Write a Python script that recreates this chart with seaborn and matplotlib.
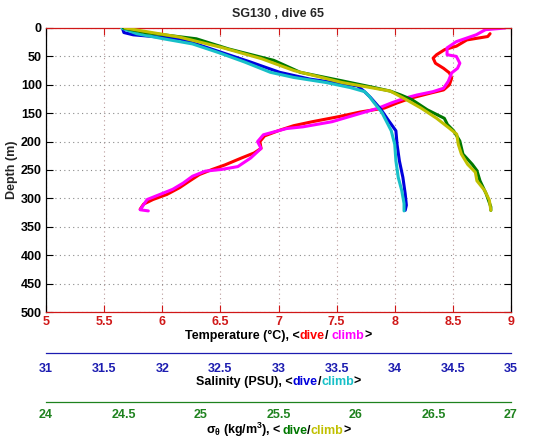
import matplotlib
matplotlib.use("Agg")
import matplotlib.pyplot as plt
import seaborn as sns
import pandas as pd
from matplotlib.ticker import MultipleLocator, FuncFormatter
from matplotlib.offsetbox import TextArea, HPacker, AnnotationBbox

# ---------------- data ----------------
# Temperature, dive (red)
temp_dive_depth = [10, 15, 21, 32, 38, 47, 53, 62, 71, 79, 88, 100, 109, 115, 124, 132, 141, 148,
                   156, 165, 172, 180, 190, 200, 212, 220, 229, 241, 249, 258, 270, 281, 293, 302, 310, 319]
temp_dive = [8.82, 8.80, 8.62, 8.53, 8.43, 8.36, 8.33, 8.35, 8.42, 8.47, 8.49, 8.47, 8.42, 8.30, 8.13,
             8.02, 7.91, 7.70, 7.52, 7.29, 7.13, 7.01, 6.88, 6.84, 6.85, 6.79, 6.68, 6.54, 6.43, 6.32,
             6.23, 6.15, 6.04, 5.92, 5.84, 5.81]
# Temperature, climb (magenta)
temp_climb_depth = [322, 320, 302, 293, 284, 273, 261, 252, 249, 244, 229, 212, 200, 188, 183, 177, 174,
                    165, 153, 141, 132, 124, 118, 112, 106, 94, 79, 71, 62, 50, 47, 35, 24, 12, 3, 0]
temp_climb = [5.88, 5.81, 5.87, 5.98, 6.09, 6.18, 6.26, 6.37, 6.51, 6.65, 6.76, 6.85, 6.82, 6.87, 6.96,
              7.07, 7.21, 7.46, 7.66, 7.86, 7.97, 8.08, 8.19, 8.33, 8.42, 8.46, 8.49, 8.54, 8.56, 8.53,
              8.45, 8.45, 8.53, 8.70, 8.78, 8.95]
# Salinity, dive (blue)
sal_dive_depth = [2, 8, 12, 19, 28, 43, 60, 78, 90, 102, 112, 122, 143, 161, 181, 205, 234, 263,
                  292, 312, 321]
sal_dive = [31.66, 31.67, 31.75, 32.15, 32.29, 32.51, 32.76, 33.01, 33.27, 33.68, 33.74, 33.79,
            33.88, 33.94, 34.01, 34.02, 34.04, 34.07, 34.09, 34.10, 34.09]
# Salinity, climb (cyan)
sal_climb_depth = [322, 309, 286, 263, 234, 205, 181, 165, 149, 131, 120, 112, 105, 96, 87, 78, 60,
                   43, 28, 19, 10, 0]
sal_climb = [34.08, 34.08, 34.06, 34.03, 34.01, 34.00, 33.97, 33.93, 33.89, 33.82, 33.78, 33.74,
             33.62, 33.41, 33.13, 32.93, 32.71, 32.48, 32.26, 32.01, 31.78, 31.65]
# Sigma-theta, dive (green)
sig_dive_depth = [0, 8, 19, 37, 57, 78, 93, 105, 111, 118, 126, 144, 159, 170, 181, 199, 222, 240,
                  251, 269, 292, 315, 321]
sig_dive = [24.50, 24.64, 24.97, 25.18, 25.47, 25.64, 25.91, 26.12, 26.22, 26.29, 26.36, 26.46,
            26.57, 26.59, 26.63, 26.67, 26.69, 26.75, 26.78, 26.80, 26.84, 26.87, 26.87]
# Sigma-theta, climb (olive yellow)
sig_climb_depth = [321, 303, 286, 269, 254, 240, 222, 205, 187, 176, 159, 141, 124, 111, 96, 75, 54,
                   34, 16, 6, 0]
sig_climb = [26.87, 26.86, 26.83, 26.78, 26.77, 26.72, 26.68, 26.66, 26.65, 26.60, 26.52, 26.42,
             26.31, 26.22, 25.91, 25.60, 25.39, 25.13, 24.86, 24.64, 24.51]

title = "SG130 , dive 65"
depth_ticks = [0, 50, 100, 150, 200, 250, 300, 350, 400, 450, 500]

# ---------------- style ----------------
sns.set_style("white")
plt.rcParams["font.family"] = ["Liberation Sans", "DejaVu Sans"]
plt.rcParams["font.weight"] = "bold"
plt.rcParams["mathtext.fontset"] = "custom"
plt.rcParams["mathtext.rm"] = "Liberation Sans"
plt.rcParams["mathtext.it"] = "Liberation Sans"
plt.rcParams["mathtext.bf"] = "Liberation Sans:bold"

RED_AX = "#d01818"
BLUE_AX = "#1c1cb0"
GREEN_AX = "#1e821e"
C_TD, C_TC = "#ff0000", "#ff00ff"
C_SD, C_SC = "#0000dd", "#18c0c8"
C_GD, C_GC = "#007800", "#c0c000"
LW = 2.2

FS = 9
W, H = 535, 442
fig = plt.figure(figsize=(W / 100, H / 100), dpi=100)
L, R = 46 / W, 511 / W
ax = fig.add_axes([L, 1 - 312 / H, R - L, 284 / H])

fmt = FuncFormatter(lambda v, p: f"{v:g}")


def trace(axis, xs, ds, color):
    df = pd.DataFrame({"x": xs, "d": ds})
    sns.lineplot(data=df, x="x", y="d", sort=False, estimator=None, color=color, lw=LW,
                 solid_capstyle="round", solid_joinstyle="round", ax=axis)


# temperature on the main axes
trace(ax, temp_dive, temp_dive_depth, C_TD)
trace(ax, temp_climb, temp_climb_depth, C_TC)
ax.set_xlim(5, 9)
ax.set_ylim(500, 0)

# salinity and sigma share the depth axis, with their own x scales
axs = ax.twiny()
trace(axs, sal_dive, sal_dive_depth, C_SD)
trace(axs, sal_climb, sal_climb_depth, C_SC)
axs.set_xlim(31, 35)
axs.axis("off")

axg = ax.twiny()
trace(axg, sig_dive, sig_dive_depth, C_GD)
trace(axg, sig_climb, sig_climb_depth, C_GC)
axg.set_xlim(24, 27)
axg.axis("off")
ax.set_ylim(500, 0)

# main axes styling
ax.set_xlabel("")
ax.set_ylabel("Depth (m)", fontsize=FS, fontweight="bold")
ax.yaxis.set_label_coords(-0.06, 0.5)
ax.xaxis.set_major_locator(MultipleLocator(0.5))
ax.xaxis.set_major_formatter(fmt)
ax.set_yticks(depth_ticks)
ax.tick_params(axis="x", which="major", direction="in", length=5, width=0.8, color=RED_AX,
               labelcolor=RED_AX, labelsize=FS, top=True, bottom=True, pad=3)
ax.tick_params(axis="y", which="major", direction="in", length=5, width=0.8, color="black",
               labelcolor="black", labelsize=FS, left=True, right=True, pad=3)
for s in ("top", "bottom"):
    ax.spines[s].set_color(RED_AX)
    ax.spines[s].set_linewidth(0.9)
for s in ("left", "right"):
    ax.spines[s].set_color("black")
    ax.spines[s].set_linewidth(0.9)
ax.xaxis.grid(True, linestyle=(0, (1, 3)), color="#b89a9a", lw=0.8)
ax.yaxis.grid(True, linestyle=(0, (1, 3)), color="#8a8a8a", lw=0.8)
ax.set_axisbelow(True)

fig.text((46 + 511) / 2 / W, 1 - 14 / H, title, ha="center", va="center", fontsize=FS, fontweight="bold")


def scale_axis(ypix, lo, hi, color, pad):
    a = fig.add_axes([L, 1 - ypix / H, R - L, 0.0005])
    a.patch.set_visible(False)
    a.set_xlim(lo, hi)
    a.set_yticks([])
    for s in ("top", "left", "right"):
        a.spines[s].set_visible(False)
    a.spines["bottom"].set_color(color)
    a.spines["bottom"].set_linewidth(0.9)
    a.xaxis.set_major_locator(MultipleLocator(0.5))
    a.xaxis.set_minor_locator(MultipleLocator(0.1))
    a.xaxis.set_major_formatter(fmt)
    a.tick_params(axis="x", which="major", direction="in", length=5, width=0.8, color=color,
                  labelcolor=color, labelsize=FS, pad=pad)
    a.tick_params(axis="x", which="minor", direction="in", length=2.5, width=0.8, color=color)
    return a


scale_axis(353, 31, 35, BLUE_AX, 7)
scale_axis(402, 24, 27, GREEN_AX, 5)


def colored_label(parts, ypix):
    kids = [TextArea(t, textprops=dict(color=c, fontsize=FS, fontweight="bold")) for t, c in parts]
    box = HPacker(children=kids, pad=0, sep=0, align="baseline")
    ab = AnnotationBbox(box, ((46 + 511) / 2 / W, 1 - ypix / H), xycoords="figure fraction",
                        frameon=False, box_alignment=(0.5, 0.5), pad=0)
    fig.add_artist(ab)


colored_label([("Temperature (°C), <", "black"), ("dive", C_TD), ("/ ", "black"),
               ("climb", C_TC), (">", "black")], 336)
colored_label([("Salinity (PSU), <", "black"), ("dive", C_SD), ("/", "black"),
               ("climb", C_SC), (">", "black")], 382)
colored_label([(r"$\sigma_\theta$ (kg/m$^{\mathbf{3}}$), <", "black"), ("dive", C_GD), ("/", "black"),
               ("climb", C_GC), (">", "black")], 430)

fig.savefig("out.png", dpi=100)
